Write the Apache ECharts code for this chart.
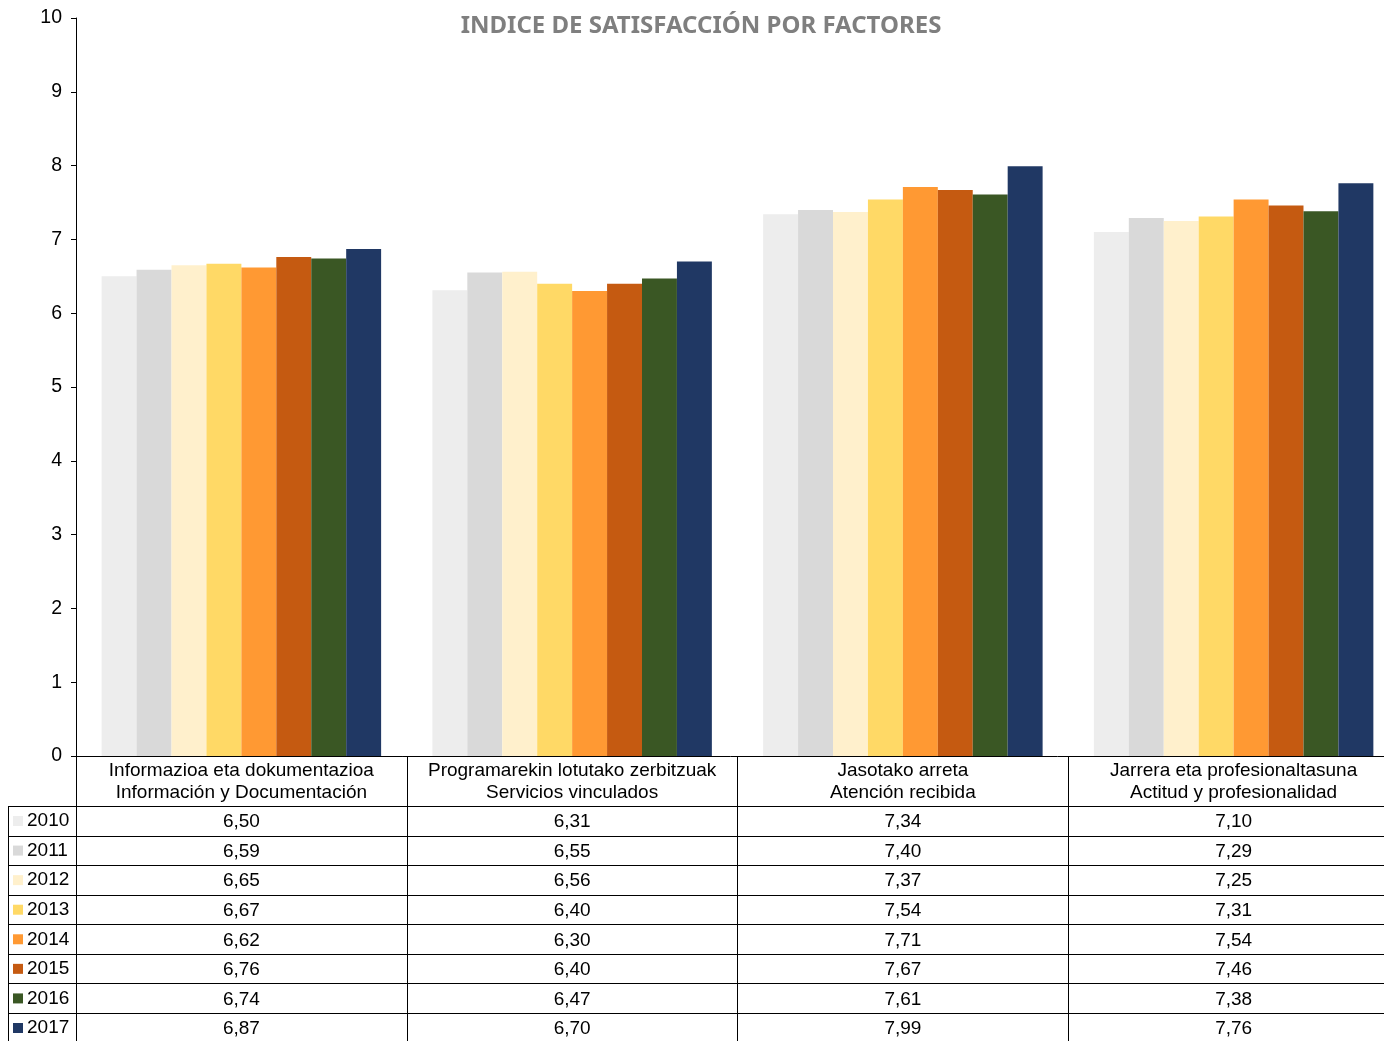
<!DOCTYPE html>
<html>
<head>
<meta charset="utf-8">
<script src="https://cdn.jsdelivr.net/npm/echarts@6/dist/echarts.min.js"></script>
<style>
  html, body { margin: 0; padding: 0; background: #ffffff; }
  #chart { width: 1384px; height: 1041px; }
</style>
</head>
<body>
<div id="chart"></div>
<script>
  var categories = [
    'Informazioa eta dokumentazioa\nInformación y Documentación',
    'Programarekin lotutako zerbitzuak\nServicios vinculados',
    'Jasotako arreta\nAtención recibida',
    'Jarrera eta profesionaltasuna\nActitud y profesionalidad'
  ]
  var years = ['2010', '2011', '2012', '2013', '2014', '2015', '2016', '2017']
  var v2010 = [6.50, 6.31, 7.34, 7.10]
  var v2011 = [6.59, 6.55, 7.40, 7.29]
  var v2012 = [6.65, 6.56, 7.37, 7.25]
  var v2013 = [6.67, 6.40, 7.54, 7.31]
  var v2014 = [6.62, 6.30, 7.71, 7.54]
  var v2015 = [6.76, 6.40, 7.67, 7.46]
  var v2016 = [6.74, 6.47, 7.61, 7.38]
  var v2017 = [6.87, 6.70, 7.99, 7.76]
  var yTicks = [0, 1, 2, 3, 4, 5, 6, 7, 8, 9, 10]
  var colors = ['#ededed', '#d9d9d9', '#fff0cc', '#ffd966', '#ff9933', '#c55a11', '#3a5724', '#203864']

  var values = [v2010, v2011, v2012, v2013, v2014, v2015, v2016, v2017]

  var font = 'Liberation Sans, Arial, sans-serif'
  var plotLeft = 76, plotTop = 18, plotBottom = 756
  var rowH = 29.57, tableTop = 806, tableLeft = 8

  var myChart = echarts.init(document.getElementById('chart'))

  // axes: the main category axis plus one hidden axis per table row
  var xAxes = [{
    type: 'category',
    data: categories,
    position: 'bottom',
    axisLine: { lineStyle: { color: '#000', width: 1 } },
    axisTick: { show: true, length: 1041 - plotBottom, lineStyle: { color: '#000' } },
    axisLabel: {
      color: '#000', fontFamily: font, fontSize: 19, lineHeight: 22,
      margin: 4, interval: 0
    }
  }]
  values.forEach(function (vals, i) {
    xAxes.push({
      type: 'category',
      data: categories,
      position: 'bottom',
      offset: 66 + i * rowH,
      axisLine: { show: false },
      axisTick: { show: false },
      axisLabel: {
        color: '#000', fontFamily: font, fontSize: 19,
        margin: 0, verticalAlign: 'middle', interval: 0,
        formatter: function (v, idx) {
          return vals[idx].toFixed(2).replace('.', ',')
        }
      }
    })
  })

  var series = years.map(function (y, i) {
    return {
      name: y,
      type: 'bar',
      xAxisIndex: 0,
      barGap: '0%',
      barCategoryGap: '15.5%',
      itemStyle: { color: colors[i] },
      data: values[i]
    }
  })

  // table grid lines
  var graphics = []
  for (var r = 0; r <= 8; r++) {
    var y = Math.round(tableTop + r * rowH) + 0.5
    graphics.push({
      type: 'line',
      shape: { x1: tableLeft, y1: y, x2: 1384, y2: y },
      style: { stroke: '#000', lineWidth: 1 }
    })
  }
  graphics.push({
    type: 'line',
    shape: { x1: tableLeft + 0.5, y1: tableTop, x2: tableLeft + 0.5, y2: 1041 },
    style: { stroke: '#000', lineWidth: 1 }
  })

  var option = {
    animation: false,
    backgroundColor: '#ffffff',
    title: {
      text: 'INDICE DE SATISFACCIÓN POR FACTORES',
      left: 696,
      textAlign: 'center',
      top: 9,
      textStyle: { color: '#7f7f7f', fontFamily: 'Noto Sans, sans-serif', fontSize: 24, fontWeight: 'bold' }
    },
    legend: {
      data: years,
      orient: 'vertical',
      left: 13,
      top: tableTop + 5,
      height: 235,
      padding: 0,
      icon: 'rect',
      itemWidth: 10,
      itemHeight: 10,
      itemGap: 9.57,
      selectedMode: false,
      textStyle: { color: '#000', fontFamily: font, fontSize: 19, lineHeight: 20, padding: [0, 0, 0, -1] }
    },
    grid: {
      left: plotLeft,
      top: plotTop,
      width: 1323,
      height: plotBottom - plotTop,
      outerBoundsMode: 'none',
      containLabel: false
    },
    xAxis: xAxes,
    yAxis: {
      type: 'value',
      min: yTicks[0],
      max: yTicks[yTicks.length - 1],
      interval: 1,
      axisLine: { show: true, lineStyle: { color: '#000' } },
      axisTick: { show: true, length: 5, lineStyle: { color: '#000' } },
      axisLabel: { color: '#000', fontFamily: font, fontSize: 19.5, margin: 14 },
      splitLine: { show: false }
    },
    graphic: graphics,
    series: series
  }
  myChart.setOption(option)
</script>
</body>
</html>
